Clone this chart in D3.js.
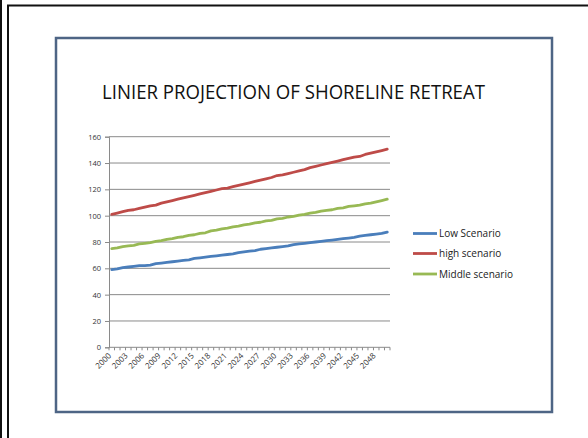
<!DOCTYPE html>
<html>
<head>
<meta charset="utf-8">
<script src="https://cdn.jsdelivr.net/npm/d3@7/dist/d3.min.js"></script>
<style>
  html, body { margin: 0; padding: 0; background: #fff; }
  svg { display: block; }
</style>
</head>
<body>
<script>
// Years 2000..2050, one point per year
const years = [
  2000,2001,2002,2003,2004,2005,2006,2007,2008,2009,
  2010,2011,2012,2013,2014,2015,2016,2017,2018,2019,
  2020,2021,2022,2023,2024,2025,2026,2027,2028,2029,
  2030,2031,2032,2033,2034,2035,2036,2037,2038,2039,
  2040,2041,2042,2043,2044,2045,2046,2047,2048,2049,2050
];

const lowScenario = [
  59,59.5,60.5,61,61.5,62,62,62.5,63.5,64,
  64.5,65,65.5,66,66.5,67.5,68,68.5,69,69.5,
  70,70.5,71,72,72.5,73,73.5,74.5,75,75.5,
  76,76.5,77,78,78.5,79,79.5,80,80.5,81,
  81.5,82,82.5,83,83.5,84.5,85,85.5,86,86.5,87.5
];

const highScenario = [
  101,102,103,104,104.5,105.5,106.5,107.5,108,109.5,
  110.5,111.5,112.5,113.5,114.5,115.5,116.5,117.5,118.5,119.5,
  120.5,121,122,123,124,125,126,127,128,129,
  130.5,131,132,133,134,135,136.5,137.5,138.5,139.5,
  140.5,141.5,142.5,143.5,144.5,145,146.5,147.5,148.5,149.5,150.5
];

const middleScenario = [
  75,75.5,76.5,77,77.5,78.5,79,79.5,80.5,81,
  82,82.5,83.5,84,85,85.5,86.5,87,88.5,89,
  90,90.5,91.5,92,93,93.5,94.5,95,96,96.5,
  97.5,98,99,99.5,100.5,101,102,102.5,103.5,104,
  104.5,105.5,106,107,107.5,108,109,109.5,110.5,111.5,112.5
];

const seriesNames = ["Low Scenario", "high scenario", "Middle scenario"];
const seriesColors = ["#4a7ebb", "#be4b48", "#98b954"];
const yTicks = [0, 20, 40, 60, 80, 100, 120, 140, 160];
const xTickLabels = years.filter((y, i) => i % 3 === 0);

const titleText = "LINIER PROJECTION OF SHORELINE RETREAT";

const W = 588, H = 438;
const svg = d3.select("body").append("svg").attr("width", W).attr("height", H);

// Page frame lines
svg.append("line").attr("x1", 1).attr("x2", 1).attr("y1", 0).attr("y2", H)
  .attr("stroke", "#111").attr("stroke-width", 2);
svg.append("line").attr("x1", 8).attr("x2", 8).attr("y1", 5.5).attr("y2", H)
  .attr("stroke", "#111").attr("stroke-width", 2);
svg.append("line").attr("x1", 7).attr("x2", W).attr("y1", 5.5).attr("y2", 5.5)
  .attr("stroke", "#111").attr("stroke-width", 2);

// Chart border
svg.append("rect").attr("x", 56).attr("y", 38).attr("width", 496).attr("height", 374)
  .attr("fill", "#fff").attr("stroke", "#4e6585").attr("stroke-width", 2.5);

// Title
svg.append("text")
  .attr("x", 102).attr("y", 99)
  .attr("textLength", 383).attr("lengthAdjust", "spacingAndGlyphs")
  .attr("font-family", "'Open Sans', sans-serif")
  .attr("font-size", 20)
  .attr("fill", "#111")
  .text(titleText);

// Plot area
const plot = { left: 109, right: 390, top: 136.7, bottom: 347.3 };

const x = d3.scaleBand().domain(years).range([plot.left, plot.right]).paddingInner(0).paddingOuter(0);
const y = d3.scaleLinear().domain([0, 160]).range([plot.bottom, plot.top]);

const g = svg.append("g");

// Horizontal gridlines
g.selectAll("line.grid").data(yTicks.filter(v => v > 0)).join("line")
  .attr("class", "grid")
  .attr("x1", plot.left).attr("x2", plot.right)
  .attr("y1", d => y(d)).attr("y2", d => y(d))
  .attr("stroke", "#8a8a8a").attr("stroke-width", 1);

// Y axis
const yAxis = d3.axisLeft(y).tickValues(yTicks).tickSize(4).tickPadding(4);
const yg = g.append("g").attr("transform", `translate(${plot.left},0)`).call(yAxis);
yg.select(".domain").attr("stroke", "#8a8a8a");
yg.selectAll(".tick line").attr("stroke", "#8a8a8a");
yg.selectAll(".tick text")
  .attr("font-family", "'Open Sans', sans-serif").attr("font-size", 7.5).attr("fill", "#333");

// X axis: tick marks on category boundaries
const xg = g.append("g").attr("transform", `translate(0,${plot.bottom})`);
xg.append("line").attr("x1", plot.left).attr("x2", plot.right).attr("y1", 0).attr("y2", 0)
  .attr("stroke", "#8a8a8a");
const boundaries = years.map(d => x(d)).concat([plot.right]);
xg.selectAll("line.tk").data(boundaries).join("line")
  .attr("class", "tk")
  .attr("x1", d => d).attr("x2", d => d).attr("y1", 0).attr("y2", 3)
  .attr("stroke", "#8a8a8a");
xg.selectAll("text").data(xTickLabels).join("text")
  .attr("transform", d => `translate(${x(d) + x.bandwidth() / 2 - 2},${7}) rotate(-45)`)
  .attr("text-anchor", "end")
  .attr("dy", "0.35em")
  .attr("font-family", "'Open Sans', sans-serif").attr("font-size", 8).attr("fill", "#333")
  .text(d => d);

// Series lines
const seriesData = [lowScenario, highScenario, middleScenario];
const line = d3.line()
  .x((d, i) => x(years[i]) + x.bandwidth() / 2)
  .y(d => y(d));

g.selectAll("path.series").data(seriesData).join("path")
  .attr("class", "series")
  .attr("d", d => line(d))
  .attr("fill", "none")
  .attr("stroke", (d, i) => seriesColors[i])
  .attr("stroke-width", 2.8)
  .attr("stroke-linejoin", "round")
  .attr("stroke-linecap", "round");

// Legend
const legend = svg.append("g");
const legendRows = [233.5, 253.5, 274];
seriesNames.forEach((name, i) => {
  legend.append("line")
    .attr("x1", 413).attr("x2", 437)
    .attr("y1", legendRows[i]).attr("y2", legendRows[i])
    .attr("stroke", seriesColors[i]).attr("stroke-width", 2.8);
  legend.append("text")
    .attr("x", 439).attr("y", legendRows[i]).attr("dy", "0.35em")
    .attr("font-family", "'Open Sans', sans-serif").attr("font-size", 10).attr("fill", "#222")
    .text(name);
});
</script>
</body>
</html>
